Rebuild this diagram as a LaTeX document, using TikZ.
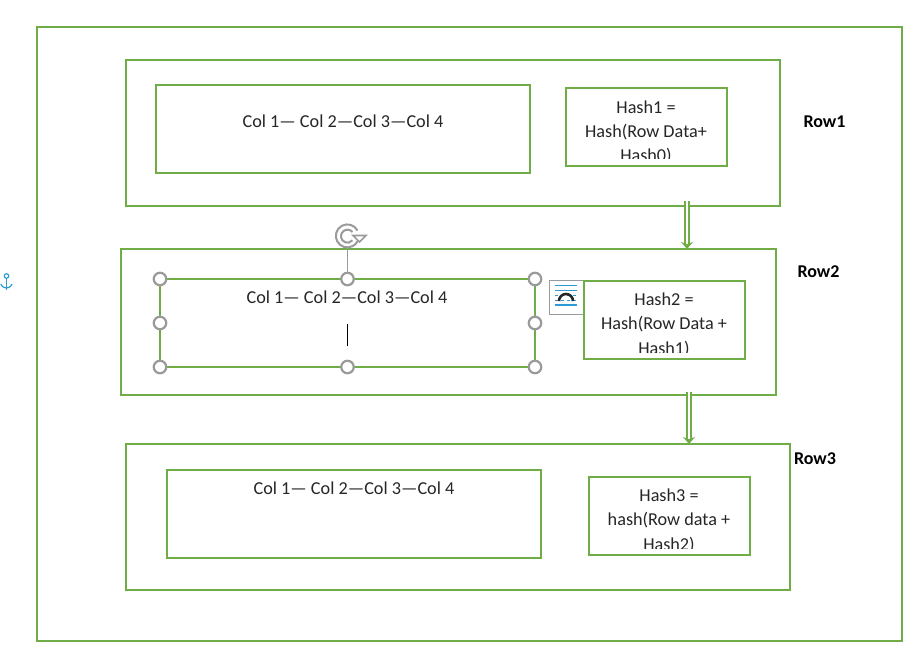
\documentclass[tikz,border=0pt]{standalone}
\usepackage{fontspec}
\setmainfont{Carlito}
\usetikzlibrary{arrows.meta}
\definecolor{boxgreen}{HTML}{70AD47}
\definecolor{handlegray}{HTML}{9A9A9A}
\definecolor{inkgray}{HTML}{262626}
\definecolor{iconblue}{HTML}{2E9BD6}
\tikzset{
    panel/.style={draw=boxgreen, line width=2pt, fill=white, inner sep=0pt, outer sep=0pt},
    cell/.style={text=inkgray, font=\fontsize{18.2}{18.2}\selectfont, inner sep=0pt, anchor=base},
    rowlabel/.style={text=black, font=\fontsize{18}{18}\selectfont\bfseries, inner sep=0pt, anchor=base},
    handle/.style={circle, draw=handlegray, line width=2.2pt, fill=white, minimum size=12.5pt, inner sep=0pt},
    flowarrow/.style={draw=boxgreen, line width=1.5pt, double=white, double distance=2.6pt, -{Stealth[length=7pt,width=12pt]}},
}
\begin{document}
\begin{tikzpicture}[x=1pt, y=-1pt]
        \useasboundingbox (0,0) rectangle (923,654);
        % frames
        \node[panel, minimum width=865pt, minimum height=614pt] (outer) at (469.5,334) {};
        \node[panel, minimum width=654pt, minimum height=146pt] (row1) at (453,133) {};
        \node[panel, minimum width=655pt, minimum height=146pt] (row2) at (448.5,322) {};
        \node[panel, minimum width=664pt, minimum height=146pt] (row3) at (458,517) {};
        % column boxes
        \node[panel, minimum width=374pt, minimum height=88pt] (cols1) at (343,129) {};
        \node[panel, line width=1.5pt, minimum width=375pt, minimum height=88pt] (cols2) at (347.5,323) {};
        \node[panel, minimum width=374pt, minimum height=88pt] (cols3) at (354,514) {};
        \node[cell] (cols1text) at (343,127) {Col 1— Col 2—Col 3—Col 4};
        \node[cell] (cols2text) at (347,303) {Col 1— Col 2—Col 3—Col 4};
        \node[cell] (cols3text) at (354,494) {Col 1— Col 2—Col 3—Col 4};
        % layout icon, sits behind hash2
        \node[draw=handlegray, fill=white, line width=0.8pt, minimum size=34pt, inner sep=0pt] (layout) at (566.5,297) {};
        \draw[iconblue, line width=1.2pt] (555,285.5) -- (577,285.5);
        \draw[iconblue, line width=0.8pt] (555,290) -- (577,290);
        \draw[iconblue, line width=0.5pt, dashed] (555,295) -- (577,295);
        \draw[iconblue, line width=0.5pt, dashed] (555,300) -- (577,300);
        \draw[iconblue, line width=1.4pt] (555,305) -- (577,305);
        \draw[inkgray, line width=2.6pt] (559,301) arc (180:0:7pt);
        % hash boxes
        \node[panel, minimum width=161pt, minimum height=78pt] (hash1) at (646.5,127) {};
        \node[panel, minimum width=161pt, minimum height=78pt] (hash2) at (664.5,320) {};
        \node[panel, minimum width=161pt, minimum height=78pt] (hash3) at (669.5,516) {};
        \begin{scope}
            \clip (567,89) rectangle (726,158.5);
            \node[cell] (hash1a) at (646,113) {Hash1 =};
            \node[cell] (hash1b) at (646,137) {Hash(Row Data+};
            \node[cell] (hash1c) at (646,161) {Hash0)};
        \end{scope}
        \begin{scope}
            \clip (585,282) rectangle (744,352);
            \node[cell] (hash2a) at (664,305) {Hash2 =};
            \node[cell] (hash2b) at (664,329) {Hash(Row Data +};
            \node[cell] (hash2c) at (664,354) {Hash1)};
        \end{scope}
        \begin{scope}
            \clip (590,478) rectangle (749,548);
            \node[cell] (hash3a) at (669,501) {Hash3 =};
            \node[cell] (hash3b) at (669,525) {hash(Row data +};
            \node[cell] (hash3c) at (669,550) {Hash2)};
        \end{scope}
        % row names
        \node[rowlabel] (row1name) at (824.5,127) {Row1};
        \node[rowlabel] (row2name) at (818.5,277) {Row2};
        \node[rowlabel] (row3name) at (815,464) {Row3};
        % arrows
        \coordinate (arrow1top) at (687,201);
        \coordinate (arrow2top) at (689,392);
        \draw[flowarrow] (arrow1top) -- (arrow1top |- row2.north);
        \draw[flowarrow] (arrow2top) -- (arrow2top |- row3.north);
        % selection handles
        \coordinate (rotator) at (347.5,236);
        \draw[handlegray, line width=1pt] (cols2.north) -- (rotator);
        \foreach \a in {north west, north, north east, west, east, south west, south, south east}
            \node[handle] at (cols2.\a) {};
        \draw[black, line width=0.8pt] (347.5,324) -- (347.5,346);
        \fill[white] (rotator) circle (12pt);
        \draw[handlegray, line width=2pt] (357.5,230.5) arc (28:332:11.5pt);
        \draw[handlegray, line width=2pt] (352.5,232) arc (40:320:6.5pt);
        \draw[handlegray, line width=1.6pt, fill=white] (353,235.5) -- (366,235.5) -- (359.5,242) -- cycle;
        % anchor
        \draw[iconblue, line width=1.2pt] (6.5,276) circle (2.3pt);
        \draw[iconblue, line width=1.2pt] (6.5,278.5) -- (6.5,290);
        \draw[iconblue, line width=1.2pt] (0.8,284) arc (200:340:6pt);
    \end{tikzpicture}
\end{document}
